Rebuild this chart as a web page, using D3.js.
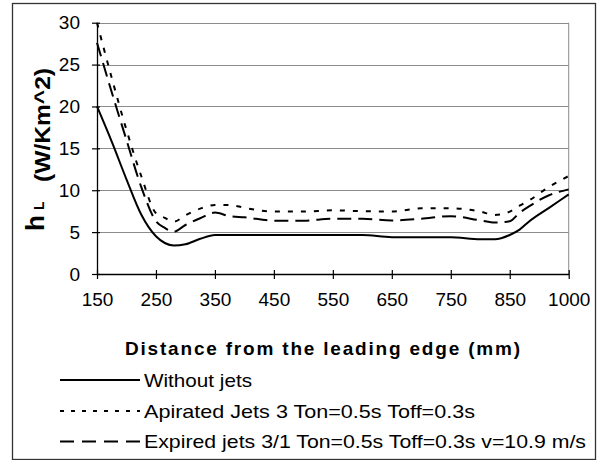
<!DOCTYPE html>
<html>
<head>
<meta charset="utf-8">
<script src="https://cdn.jsdelivr.net/npm/d3@7"></script>
<style>
  html, body { margin: 0; padding: 0; background: #fff; }
  svg { display: block; font-family: "Liberation Sans", Arial, sans-serif; }
</style>
</head>
<body>
<svg id="chart" width="602" height="460"></svg>
<script>
// ---- data ----
const distance = [150,175,200,225,250,265,280,300,325,350,375,400,450,500,550,600,650,700,750,800,825,850,875,900,950,1000];
const withoutJets = [20,15.8,11.3,7.1,4.5,3.7,3.4,3.55,4.2,4.66,4.66,4.66,4.66,4.66,4.66,4.66,4.4,4.4,4.4,4.14,4.14,4.66,5.3,6.3,7.9,9.5];
const aspiratedJets = [30,23.4,17.2,11.7,7.25,6.7,6.25,7.0,7.8,8.24,8.24,7.9,7.45,7.45,7.6,7.5,7.45,7.85,7.85,7.45,7.05,7.45,8.15,8.8,10.4,11.7];
const expiredJets = [27.6,21.7,16.0,10.4,6.3,5.5,5.05,5.85,6.65,7.33,6.9,6.77,6.37,6.37,6.6,6.6,6.4,6.6,6.9,6.4,6.15,6.3,7.3,8.1,9.4,10.1];
const xTicks = [150,250,350,450,550,650,750,850,1000];
const yTicks = [0,5,10,15,20,25,30];
const seriesNames = ["Without jets", "Apirated Jets 3 Ton=0.5s Toff=0.3s", "Expired jets 3/1 Ton=0.5s Toff=0.3s v=10.9 m/s"];

const svg = d3.select("#chart");

// outer frame
svg.append("rect").attr("x", 12.5).attr("y", 3.5).attr("width", 583).attr("height", 456)
  .attr("fill", "#fff").attr("stroke", "#333").attr("stroke-width", 1.3);

const pLeft = 97, pRight = 568.7, pTop = 22.7, pBottom = 274;
// category-style axis: last interval (850 -> 1000) has the same width as the others
const x = d3.scaleLinear().domain([150, 850, 1000]).range([pLeft, pLeft + 7 * (pRight - pLeft) / 8, pRight]);
const y = d3.scaleLinear().domain([0, 30]).range([pBottom, pTop]);

// gridlines
svg.append("g").selectAll("line").data(yTicks.filter(d => d > 0)).join("line")
  .attr("x1", pLeft).attr("x2", pRight)
  .attr("y1", d => Math.round(y(d)) + 0.5).attr("y2", d => Math.round(y(d)) + 0.5)
  .attr("stroke", "#8c8c8c").attr("stroke-width", 1);
// plot area right border
svg.append("line").attr("x1", pRight).attr("x2", pRight).attr("y1", pTop).attr("y2", pBottom)
  .attr("stroke", "#8c8c8c").attr("stroke-width", 1);

// axes
const xAxis = d3.axisBottom(x).tickValues(xTicks).tickFormat(d3.format("d"))
  .tickSizeInner(5).tickSizeOuter(0).tickPadding(14);
const gx = svg.append("g").attr("transform", `translate(0,${pBottom})`).call(xAxis);
gx.select(".domain").attr("stroke", "#000").attr("stroke-width", 1.3);
gx.selectAll(".tick line").attr("stroke", "#000").attr("stroke-width", 1.2).attr("y1", -4);
gx.selectAll(".tick text").attr("font-size", 19).attr("fill", "#000")
  .attr("font-family", "Liberation Sans, Arial, sans-serif");

const yAxis = d3.axisLeft(y).tickValues(yTicks).tickSizeInner(5).tickSizeOuter(0).tickPadding(12);
const gy = svg.append("g").attr("transform", `translate(${pLeft},0)`).call(yAxis);
gy.select(".domain").attr("stroke", "#000").attr("stroke-width", 1.3);
gy.selectAll(".tick line").attr("stroke", "#000").attr("stroke-width", 1.2).attr("x1", 3);
gy.selectAll(".tick text").attr("font-size", 19).attr("fill", "#000")
  .attr("font-family", "Liberation Sans, Arial, sans-serif");

// lines
const styles = [
  { data: withoutJets, dash: null },
  { data: aspiratedJets, dash: "5,8" },
  { data: expiredJets, dash: "14,7" }
];
const line = d3.line().x(d => x(d[0])).y(d => y(d[1])).curve(d3.curveMonotoneX);
styles.forEach(s => {
  svg.append("path")
    .datum(distance.map((d, i) => [d, s.data[i]]))
    .attr("d", line).attr("fill", "none").attr("stroke", "#000")
    .attr("stroke-width", 2).attr("stroke-dasharray", s.dash);
});

// x title
svg.append("text").attr("x", 125).attr("y", 355)
  .attr("font-size", 19).attr("font-weight", "bold").attr("fill", "#000")
  .attr("textLength", 395).attr("lengthAdjust", "spacing")
  .text("Distance from the leading edge (mm)");

// y title (rotated)
const yt = svg.append("g").attr("transform", "translate(44,231) rotate(-90)");
yt.append("text").attr("x", 0).attr("y", 0).attr("font-size", 26).attr("font-weight", "bold").text("h");
yt.append("text").attr("x", 21).attr("y", 0).attr("font-size", 14).attr("font-weight", "bold").text("L");
yt.append("text").attr("x", 49).attr("y", 6).attr("font-size", 22).attr("font-weight", "bold")
  .attr("textLength", 114).attr("lengthAdjust", "spacingAndGlyphs").text("(W/Km^2)");

// legend
const legendY = [380, 411, 441.5];
const legendLen = [108, 331, 442];
const legendDash = [null, "4,7", "14,8"];
seriesNames.forEach((name, i) => {
  svg.append("line").attr("x1", 60).attr("x2", 140).attr("y1", legendY[i]).attr("y2", legendY[i])
    .attr("stroke", "#000").attr("stroke-width", 2).attr("stroke-dasharray", legendDash[i]);
  svg.append("text").attr("x", 144).attr("y", legendY[i] + 6.5)
    .attr("font-size", 19).attr("fill", "#000")
    .attr("textLength", legendLen[i]).attr("lengthAdjust", "spacingAndGlyphs")
    .text(name);
});
</script>
</body>
</html>
